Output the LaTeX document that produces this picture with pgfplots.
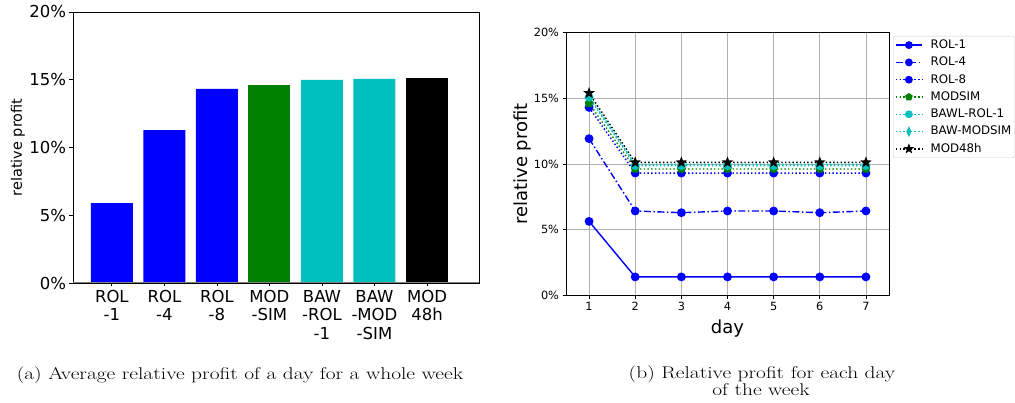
\documentclass[border=0pt]{standalone}
\usepackage{pgfplots}
\pgfplotsset{compat=1.18}
\usepackage{fontspec}
\newfontfamily\djv{DejaVu Sans}
\usetikzlibrary{plotmarks}
\definecolor{mcyan}{rgb}{0,0.75,0.75}
\definecolor{mgreen}{rgb}{0,0.5,0}
\definecolor{gridgray}{HTML}{B0B0B0}
\definecolor{leggray}{HTML}{CCCCCC}
\pgfdeclareplotmark{fstar}{%
  \pgfpathmoveto{\pgfpointpolar{90}{\pgfplotmarksize}}%
  \pgfpathlineto{\pgfpointpolar{126}{0.42\pgfplotmarksize}}%
  \pgfpathlineto{\pgfpointpolar{162}{\pgfplotmarksize}}%
  \pgfpathlineto{\pgfpointpolar{198}{0.42\pgfplotmarksize}}%
  \pgfpathlineto{\pgfpointpolar{234}{\pgfplotmarksize}}%
  \pgfpathlineto{\pgfpointpolar{270}{0.42\pgfplotmarksize}}%
  \pgfpathlineto{\pgfpointpolar{306}{\pgfplotmarksize}}%
  \pgfpathlineto{\pgfpointpolar{342}{0.42\pgfplotmarksize}}%
  \pgfpathlineto{\pgfpointpolar{18}{\pgfplotmarksize}}%
  \pgfpathlineto{\pgfpointpolar{54}{0.42\pgfplotmarksize}}%
  \pgfpathclose\pgfusepathqfillstroke}
\begin{document}
\begin{tikzpicture}
\path[use as bounding box] (0,0) rectangle (1015pt,403pt);
% ---------------- left: bar chart
\begin{axis}[
  at={(73pt,120pt)}, anchor=south west, scale only axis,
  width=406pt, height=271pt,
  xmin=-0.74, xmax=6.99, ymin=0, ymax=20,
  xtick={0,1,2,3,4,5,6},
  xticklabels={{ROL\\-1},{ROL\\-4},{ROL\\-8},{MOD\\-SIM},{BAW\\-ROL\\-1},{BAW\\-MOD\\-SIM},{MOD\\48h}},
  ytick={0,5,10,15,20},
  yticklabels={0\%,5\%,10\%,15\%,20\%},
  tick align=outside, major tick length=3.5pt,
  xtick pos=bottom, ytick pos=left,
  tick style={black, line width=0.8pt},
  axis line style={line width=0.8pt},
  ticklabel style={font=\djv\fontsize{16.5}{18.5}\selectfont},
  xticklabel style={align=center},
  ylabel={relative profit},
  every axis y label/.style={at={(axis description cs:-0.1355,0.5)}, rotate=90, anchor=center,
     font=\djv\fontsize{14.5}{16}\selectfont},
]
\addplot[ybar, bar width=0.8, bar shift=0pt, fill=blue, draw=none] coordinates {(0,5.89) (1,11.29) (2,14.32)};
\addplot[ybar, bar width=0.8, bar shift=0pt, fill=mgreen, draw=none] coordinates {(3,14.62)};
\addplot[ybar, bar width=0.8, bar shift=0pt, fill=mcyan, draw=none] coordinates {(4,14.99) (5,15.06)};
\addplot[ybar, bar width=0.8, bar shift=0pt, fill=black, draw=none] coordinates {(6,15.14)};
\draw[color=gray, line width=1.5pt] (rel axis cs:0,0) -- (rel axis cs:1,0);
\end{axis}
% ---------------- right: line chart
\begin{axis}[
  at={(566pt,107.7pt)}, anchor=south west, scale only axis,
  width=323pt, height=262.6pt,
  xmin=0.5, xmax=7.5, ymin=0, ymax=20,
  xtick={1,2,3,4,5,6,7}, xticklabels={1,2,3,4,5,6,7},
  ytick={0,5,10,15,20}, yticklabels={0\%,5\%,10\%,15\%,20\%},
  tick align=outside, major tick length=3.5pt,
  xtick pos=bottom, ytick pos=left,
  tick style={black, line width=0.8pt},
  axis line style={line width=0.8pt},
  grid=major, grid style={gridgray, line width=0.8pt},
  ticklabel style={font=\djv\fontsize{11.3}{13}\selectfont},
  xlabel={day}, ylabel={relative profit},
  every axis y label/.style={at={(axis description cs:-0.136,0.5)}, rotate=90, anchor=center,
     font=\djv\fontsize{18}{20}\selectfont},
  every axis x label/.style={at={(axis description cs:0.5,-0.1455)}, anchor=base,
     font=\djv\fontsize{18}{20}\selectfont},
  legend style={at={(1,1)}, anchor=north west, xshift=4pt, yshift=-3.3pt,
    draw=leggray, rounded corners=2pt, fill=white, inner sep=2pt,
    font=\djv\fontsize{11.8}{14}\selectfont, row sep=3.5pt,
    nodes={inner sep=1pt, text height=9.3pt, text depth=2.5pt},
    /tikz/every odd column/.append style={column sep=7pt}},
  legend cell align=left,
  legend image code/.code={\draw[mark repeat=2, mark phase=2, mark size=3.2pt] plot coordinates {(0pt,0pt) (13pt,0pt) (26pt,0pt)};},
  mark size=3.7pt,
]
\addplot[blue, line width=1.4pt, mark=*, mark options={solid}] coordinates {(1,5.63) (2,1.40) (3,1.40) (4,1.40) (5,1.40) (6,1.40) (7,1.40)};
\addlegendentry{ROL-1}
\addplot[blue, line width=1.4pt, dash pattern=on 7pt off 2.5pt on 1.5pt off 2.5pt, mark=*, mark options={solid}] coordinates {(1,11.93) (2,6.42) (3,6.29) (4,6.42) (5,6.42) (6,6.29) (7,6.42)};
\addlegendentry{ROL-4}
\addplot[blue, line width=1.4pt, dash pattern=on 1.4pt off 2.3pt, mark=*, mark options={solid}] coordinates {(1,14.31) (2,9.31) (3,9.31) (4,9.31) (5,9.31) (6,9.31) (7,9.31)};
\addlegendentry{ROL-8}
\addplot[mgreen, line width=1.4pt, dash pattern=on 1.4pt off 2.3pt, mark=pentagon*, mark options={solid}] coordinates {(1,14.62) (2,9.62) (3,9.62) (4,9.62) (5,9.62) (6,9.62) (7,9.62)};
\addlegendentry{MODSIM}
\addplot[mcyan, line width=1.4pt, dash pattern=on 1.4pt off 2.3pt, mark=*, mark options={solid}] coordinates {(1,15.08) (2,9.87) (3,9.87) (4,9.87) (5,9.87) (6,9.87) (7,9.87)};
\addlegendentry{BAWL-ROL-1}
\addplot[mcyan, line width=1.4pt, dash pattern=on 1.4pt off 2.3pt, mark=diamond*, mark options={solid, xscale=0.6, scale=1.2}] coordinates {(1,15.18) (2,9.97) (3,9.97) (4,9.97) (5,9.97) (6,9.97) (7,9.97)};
\addlegendentry{BAW-MODSIM}
\addplot[black, line width=1.4pt, dash pattern=on 1.4pt off 2.3pt, mark=fstar, mark options={solid, scale=1.1}] coordinates {(1,15.40) (2,10.12) (3,10.12) (4,10.12) (5,10.12) (6,10.12) (7,10.12)};
\addlegendentry{MOD48h}
\end{axis}
% ---------------- captions
\node[anchor=base, font=\fontsize{17}{19}\selectfont, xscale=1.26] at (240pt,23pt) {(a) Average relative profit of a day for a whole week};
\node[anchor=base, font=\fontsize{17}{19}\selectfont, xscale=1.26] at (762pt,24pt) {(b) Relative profit for each day};
\node[anchor=base, font=\fontsize{17}{19}\selectfont, xscale=1.26] at (761pt,7pt) {of the week};
\end{tikzpicture}
\end{document}
